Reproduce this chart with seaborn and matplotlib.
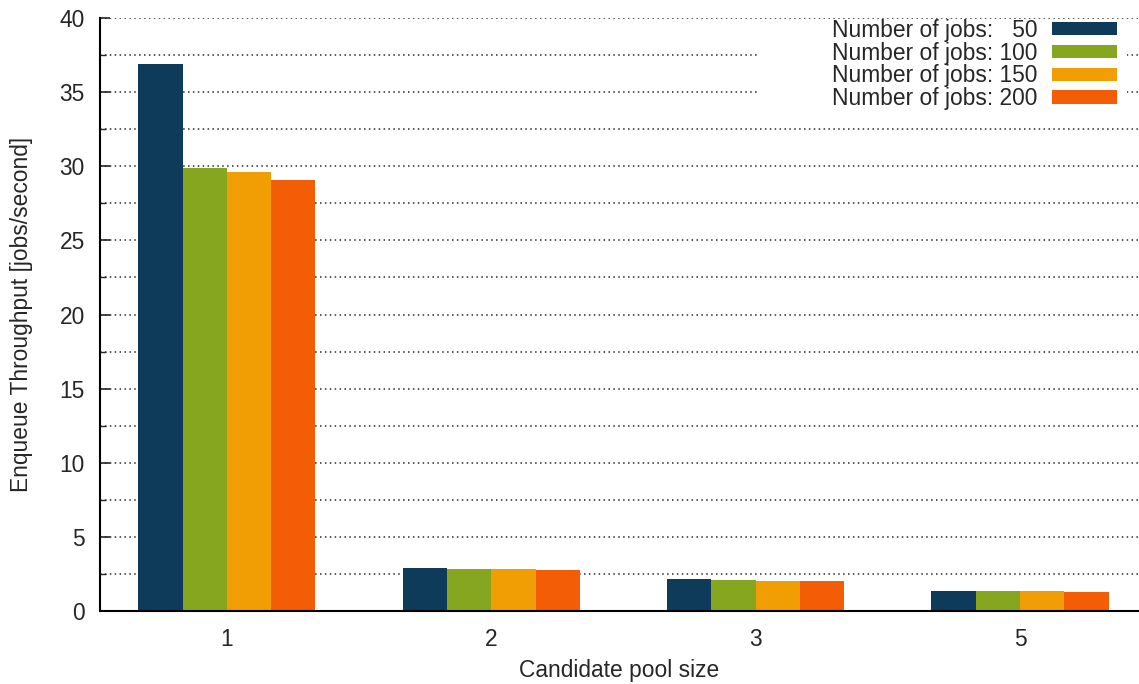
import matplotlib
matplotlib.use("Agg")
import matplotlib.pyplot as plt
from matplotlib.patches import Rectangle
from matplotlib.ticker import MultipleLocator
import pandas as pd
import seaborn as sns

# Enqueue throughput per candidate pool size, one series per job count
pool_sizes = ["1", "2", "3", "5"]
job_labels = ["Number of jobs:   50", "Number of jobs: 100",
              "Number of jobs: 150", "Number of jobs: 200"]
jobs_50 = [36.9, 2.90, 2.16, 1.35]
jobs_100 = [29.9, 2.83, 2.09, 1.35]
jobs_150 = [29.6, 2.83, 2.02, 1.35]
jobs_200 = [29.1, 2.76, 2.02, 1.28]
colors = ["#0f3b5a", "#87a61f", "#f19e05", "#f25d05"]

rows = []
for label, series in zip(job_labels, [jobs_50, jobs_100, jobs_150, jobs_200]):
    for size, value in zip(pool_sizes, series):
        rows.append({"pool": size, "jobs": label, "throughput": value})
df = pd.DataFrame(rows)

sns.set_style("white")
plt.rcParams["font.family"] = ["Liberation Sans", "DejaVu Sans"]
FS = 16.4

fig = plt.figure(figsize=(11.39, 6.84), dpi=100)
W, H = 1139, 684
ax = fig.add_axes([100 / W, 73 / H, (W - 100) / W, (611 - 18) / H])

sns.barplot(data=df, x="pool", y="throughput", hue="jobs", order=pool_sizes,
            hue_order=job_labels, palette=colors, width=0.67, gap=0,
            saturation=1, edgecolor="none", linewidth=0, ax=ax, legend=True)

ax.set_xlim(-0.48, 3.45)
ax.set_ylim(0, 40)
ax.yaxis.set_major_locator(MultipleLocator(5))
ax.yaxis.set_minor_locator(MultipleLocator(2.5))
ax.set_axisbelow(True)
ax.grid(True, which="both", axis="y", color="#2a2a2a",
        linestyle=(0, (1, 2.2)), linewidth=1.1)
ax.grid(False, axis="x")

for side in ("top", "right"):
    ax.spines[side].set_visible(False)
for side in ("left", "bottom"):
    ax.spines[side].set_color("black")
    ax.spines[side].set_linewidth(1.5)

ax.tick_params(axis="y", which="major", direction="in", length=7, width=1.2,
               labelsize=FS, pad=11, left=True)
ax.tick_params(axis="y", which="minor", direction="in", length=4, width=1.0,
               left=True)
ax.tick_params(axis="x", length=0, labelsize=FS, pad=12)

ax.set_xlabel("Candidate pool size", fontsize=FS, labelpad=6)
ax.set_ylabel("Enqueue Throughput [jobs/second]", fontsize=FS, labelpad=19)

# white backing behind the key, hiding the grid there
ax.add_patch(Rectangle((0.635, 0.845), 0.353, 0.148, transform=ax.transAxes,
                       facecolor="white", edgecolor="none", zorder=0.8))

handles, labels = ax.get_legend_handles_labels()
ax.legend(handles, labels, loc="upper right", markerfirst=False,
          bbox_to_anchor=(1124 / W, 1 - 12 / H), bbox_transform=fig.transFigure,
          frameon=False, fontsize=FS, handlelength=2.85, handleheight=0.53,
          handletextpad=0.65, labelspacing=-0.01, borderpad=0.3,
          borderaxespad=0)

fig.savefig("out.png", dpi=100)
